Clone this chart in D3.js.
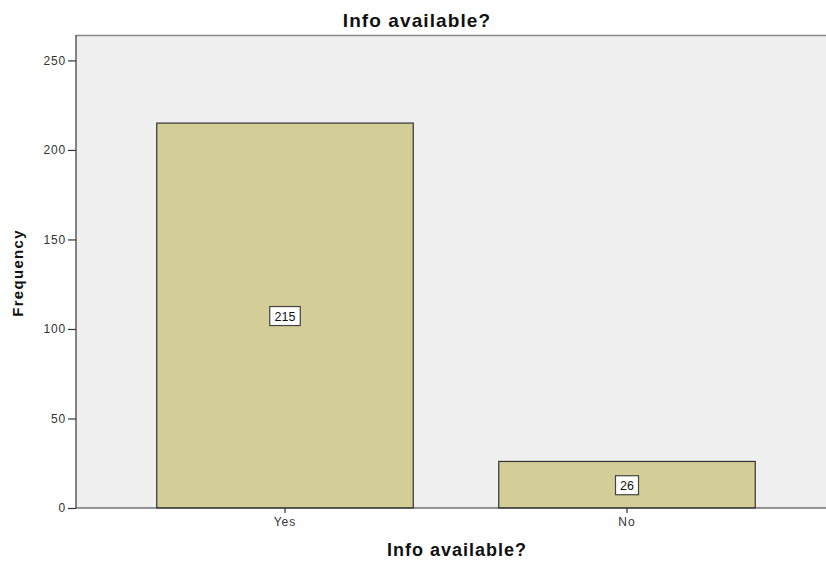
<!DOCTYPE html>
<html><head><meta charset="utf-8">
<script src="https://cdn.jsdelivr.net/npm/d3@7"></script>
<style>body{margin:0;background:#fff;}svg{display:block;font-family:"Liberation Sans",Arial,sans-serif;}</style>
</head><body>
<svg id="c" width="826" height="561"></svg>
<script>
const categories = ["Yes", "No"];
const frequencies = [215, 26];
const yTicks = [0, 50, 100, 150, 200, 250];

const svg = d3.select("#c");
const pLeft = 76, pRight = 826, pTop = 35, pBottom = 508;
const y = d3.scaleLinear().domain([0, 264.2]).range([pBottom, pTop]);
const x = d3.scaleBand().domain(categories).range([114, 798]).paddingInner(0.25).paddingOuter(0.125);

svg.append("rect").attr("x", pLeft).attr("y", pTop).attr("width", pRight - pLeft).attr("height", pBottom - pTop).attr("fill", "#efefef");
svg.append("line").attr("x1", pLeft).attr("x2", pRight).attr("y1", pTop + 0.5).attr("y2", pTop + 0.5).attr("stroke", "#888").attr("stroke-width", 1.5);

svg.selectAll(".bar").data(categories).join("rect")
  .attr("x", d => x(d)).attr("y", (d, i) => y(frequencies[i]))
  .attr("width", x.bandwidth()).attr("height", (d, i) => pBottom - y(frequencies[i]))
  .attr("fill", "#d3ce97").attr("stroke", "#333").attr("stroke-width", 1.2);

const yAxis = svg.append("g").attr("transform", `translate(${pLeft},0)`)
  .call(d3.axisLeft(y).tickValues(yTicks).tickSize(8).tickSizeOuter(0));
yAxis.select(".domain").remove();
yAxis.selectAll("text").attr("font-size", 12).attr("letter-spacing", 0.8).attr("fill", "#333").attr("x", -10);
yAxis.selectAll("line").attr("stroke", "#333").attr("stroke-width", 1.2);

const xAxis = svg.append("g").attr("transform", `translate(0,${pBottom})`)
  .call(d3.axisBottom(x).tickSize(5).tickSizeOuter(0));
xAxis.select(".domain").remove();
xAxis.selectAll("text").attr("font-size", 12).attr("letter-spacing", 1).attr("fill", "#333").attr("y", 9);
xAxis.selectAll("line").attr("stroke", "#333").attr("stroke-width", 1.2);

svg.append("line").attr("x1", pLeft).attr("x2", pLeft).attr("y1", pTop).attr("y2", pBottom).attr("stroke", "#333").attr("stroke-width", 1.2);
svg.append("line").attr("x1", pLeft).attr("x2", pRight).attr("y1", pBottom).attr("y2", pBottom).attr("stroke", "#333").attr("stroke-width", 1.2);

categories.forEach((c, i) => {
  const cx = x(c) + x.bandwidth() / 2;
  const cy = y(frequencies[i] / 2);
  const t = String(frequencies[i]);
  const w = t.length * 7.5 + 8;
  svg.append("rect").attr("x", cx - w / 2).attr("y", cy - 9).attr("width", w).attr("height", 19)
    .attr("fill", "#fff").attr("stroke", "#444").attr("stroke-width", 1.2);
  svg.append("text").attr("x", cx).attr("y", cy + 5).attr("text-anchor", "middle")
    .attr("font-size", 12.5).attr("fill", "#111").text(t);
});

svg.append("text").attr("x", 417).attr("y", 27).attr("text-anchor", "middle")
  .attr("font-size", 19).attr("letter-spacing", 1.1).attr("font-weight", "bold").attr("fill", "#111").text("Info available?");
svg.append("text").attr("x", 457).attr("y", 556).attr("text-anchor", "middle")
  .attr("font-size", 18).attr("letter-spacing", 1).attr("font-weight", "bold").attr("fill", "#111").text("Info available?");
svg.append("text").attr("transform", "translate(23,273) rotate(-90)").attr("text-anchor", "middle")
  .attr("font-size", 15).attr("letter-spacing", 1.3).attr("font-weight", "bold").attr("fill", "#111").text("Frequency");
</script>
</body></html>
